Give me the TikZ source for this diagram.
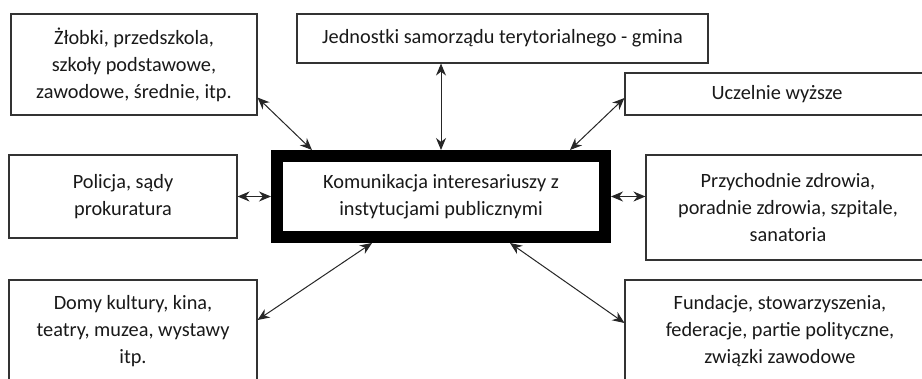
\documentclass[tikz,border=0pt]{standalone}
\usepackage{fontspec}
\setmainfont{Carlito}
\usetikzlibrary{arrows.meta}
\begin{document}
\begin{tikzpicture}[x=1pt,y=-1pt,
  box/.style={draw=black!80, line width=1.1pt, align=center, inner sep=0pt,
    text=black!90, font=\fontsize{20.3}{27}\selectfont},
  mainbox/.style={draw=black, line width=12pt, align=center, inner sep=0pt,
    text=black!90, font=\fontsize{20.3}{27}\selectfont},
  arr/.style={{Stealth[length=12pt,width=10pt]}-{Stealth[length=12pt,width=10pt]}, line width=1pt, black!85}]
\useasboundingbox (0,0) rectangle (922,379);
\clip (0,0) rectangle (922,379);
\fill[white] (0,0) rectangle (922,379);

\node[box, minimum width=246pt, minimum height=101pt] (zl) at (134,64.5)
  {Żłobki, przedszkola,\\szkoły podstawowe,\\zawodowe, średnie, itp.};
\node[box, minimum width=411pt, minimum height=49pt] (jd) at (502.5,38.5)
  {Jednostki samorządu terytorialnego - gmina};
\node[box, minimum width=304pt, minimum height=42pt] (uc) at (777,94)
  {Uczelnie wyższe};
\node[box, minimum width=228pt, minimum height=83pt] (po) at (123,196.5)
  {Policja, sądy\\prokuratura};
\node[mainbox, minimum width=328pt, minimum height=81pt] (c) at (441,196.5)
  {Komunikacja interesariuszy z\\instytucjami publicznymi};
\node[box, minimum width=284pt, minimum height=105pt] (pr) at (788,207.5)
  {Przychodnie zdrowia,\\poradnie zdrowia, szpitale,\\sanatoria};
\node[box, minimum width=248pt, minimum height=102pt] (do) at (133,331)
  {Domy kultury, kina,\\teatry, muzea, wystawy\\itp.};
\node[box, minimum width=310pt, minimum height=102pt] (fu) at (780,331)
  {Fundacje, stowarzyszenia,\\federacje, partie polityczne,\\związki zawodowe};

\draw[arr] ([yshift=18pt]zl.south east) -- ([xshift=41pt]c.north west);
\draw[arr] (c.north |- jd.south) -- (c.north);
\draw[arr] ([yshift=-4pt]uc.west) -- ([xshift=-41pt]c.north east);
\draw[arr] (c.west -| po.east) -- (c.west);
\draw[arr] (c.east) -- (c.east -| pr.west);
\draw[arr] ([xshift=101pt]c.south west) -- ([yshift=11pt]do.east);
\draw[arr] ([xshift=-101pt]c.south east) -- ([yshift=8pt]fu.west);
\end{tikzpicture}
\end{document}
